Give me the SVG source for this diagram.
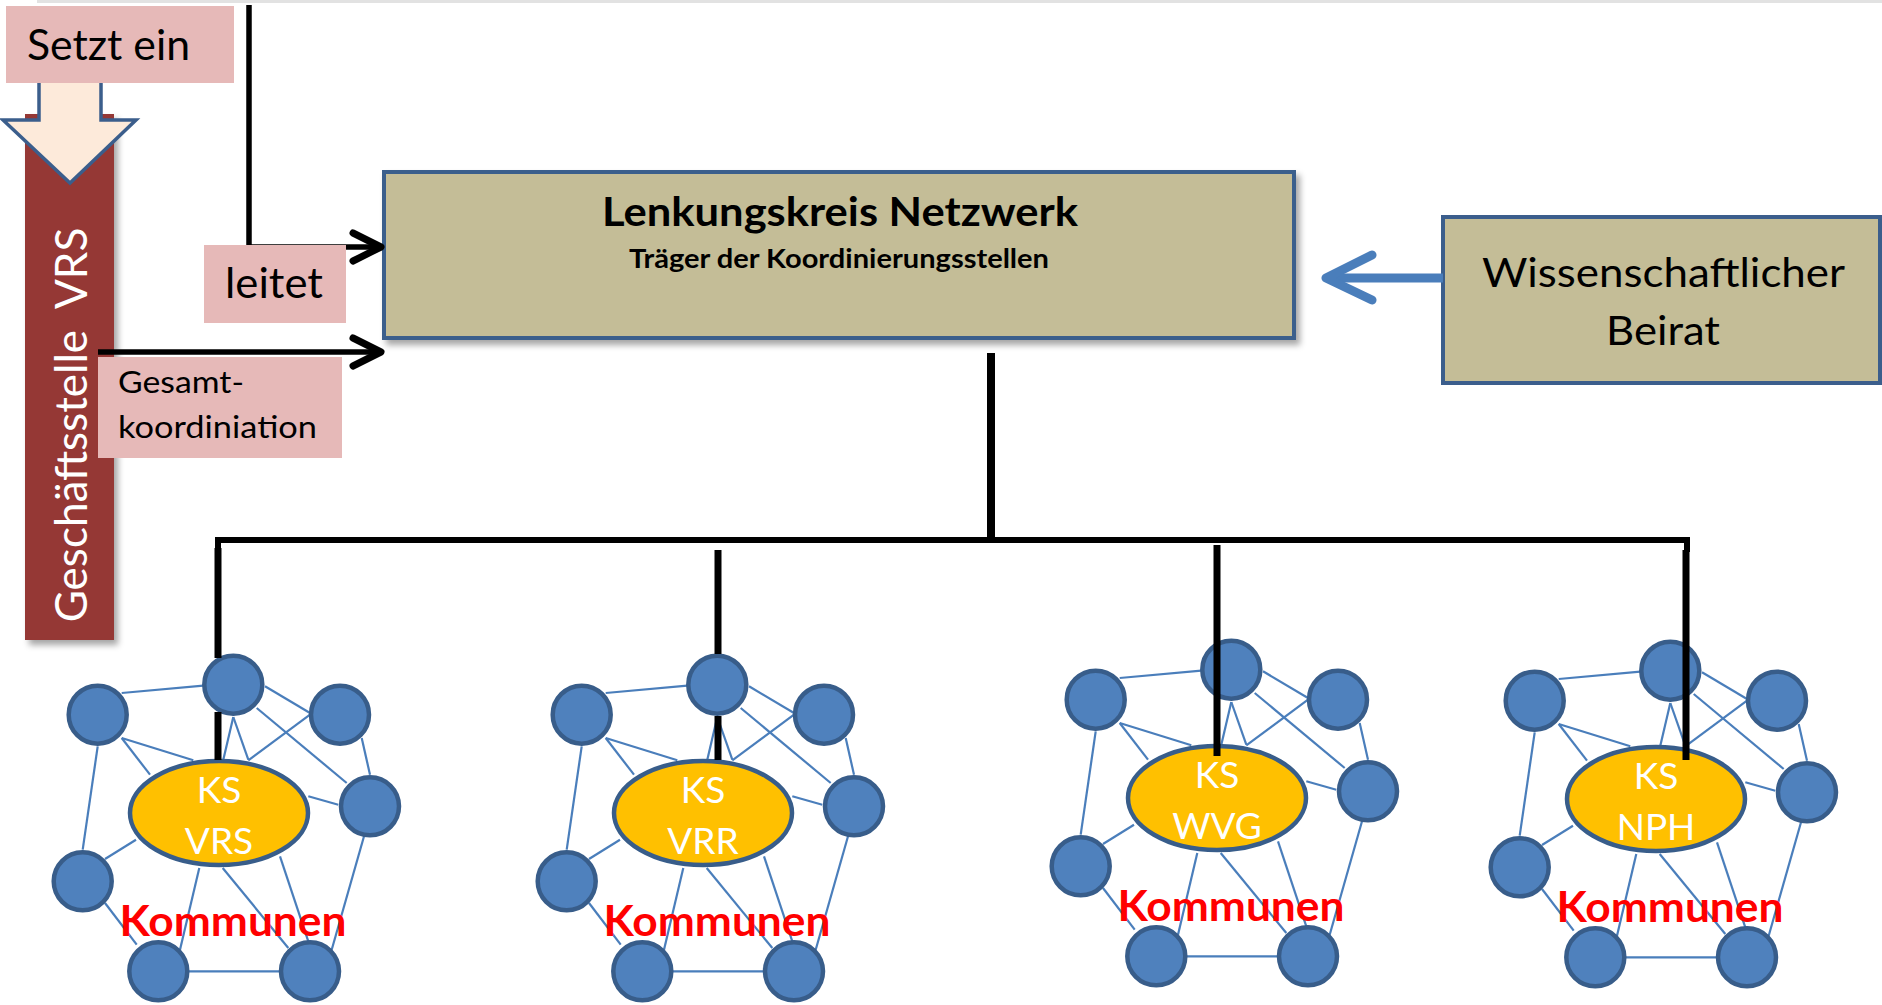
<svg xmlns="http://www.w3.org/2000/svg" xmlns:xlink="http://www.w3.org/1999/xlink" width="1882" height="1005" viewBox="0 0 1882 1005">
<defs>
<style>
.pink{fill:#E6B9B8}
.lbl{font-family:Lato,"Open Sans","Liberation Sans",sans-serif;fill:#000}
.conn{stroke:#000;fill:none}
.edge{stroke:#4A7EBB;stroke-width:2.2}
.dot{fill:#4F81BD;stroke:#385D8A;stroke-width:4.5}
.ks{fill:#FFC000;stroke:#385D8A;stroke-width:4.5}
.kst{font-family:Lato,"Open Sans","Liberation Sans",sans-serif;font-size:37px;fill:#fff;text-anchor:middle}
.kom{font-family:Lato,"Open Sans","Liberation Sans",sans-serif;font-size:42px;font-weight:bold;fill:#FF0000;text-anchor:middle}
.box{fill:#C4BD97;stroke:#3B5E8C;stroke-width:4}
</style>
<filter id="sh" x="-10%" y="-10%" width="130%" height="140%">
<feDropShadow dx="4" dy="5" stdDeviation="3" flood-color="#000" flood-opacity="0.35"/>
</filter>
<g id="net">
<g class="edge">
<line x1="-97.3" y1="-120" x2="-15.7" y2="-127.3"/>
<line x1="46" y1="-126.7" x2="91" y2="-100"/>
<line x1="14.3" y1="-96" x2="4.3" y2="-53.3"/>
<line x1="14.3" y1="-96" x2="29.3" y2="-53.3"/>
<line x1="37.7" y1="-105" x2="127.7" y2="-30"/>
<line x1="91" y1="-98.3" x2="29.3" y2="-52.7"/>
<line x1="142.7" y1="-75" x2="151" y2="-38.3"/>
<line x1="-97.3" y1="-75" x2="-25.7" y2="-52.7"/>
<line x1="-97.3" y1="-75" x2="-69" y2="-38.3"/>
<line x1="-121.3" y1="-66.7" x2="-136.3" y2="36.7"/>
<line x1="89.3" y1="-16.7" x2="119.3" y2="-8.3"/>
<line x1="-114" y1="46" x2="-83" y2="26.7"/>
<line x1="-114" y1="90" x2="-82.3" y2="131.7"/>
<line x1="-19.7" y1="55" x2="-39" y2="136.7"/>
<line x1="3.7" y1="55" x2="69.3" y2="135"/>
<line x1="61" y1="43.3" x2="89.3" y2="128.3"/>
<line x1="149.3" y1="8.3" x2="112.7" y2="136.7"/>
<line x1="-30.7" y1="158.3" x2="60.3" y2="158.3"/>
</g>
<circle class="dot" cx="14.3" cy="-128.3" r="29"/>
<circle class="dot" cx="-121.3" cy="-98.3" r="29"/>
<circle class="dot" cx="121" cy="-98.3" r="29"/>
<circle class="dot" cx="151" cy="-6.7" r="29"/>
<circle class="dot" cx="-136.3" cy="68.3" r="29"/>
<circle class="dot" cx="-60.7" cy="158.3" r="29"/>
<circle class="dot" cx="91" cy="158.3" r="29"/>
<ellipse class="ks" cx="0" cy="0" rx="89" ry="52"/>
</g>
</defs>
<rect width="1882" height="1005" fill="#fff"/>
<rect x="37" y="0" width="1845" height="3" fill="#e2e2e2"/>

<g id="geschaeftsstelle">
<rect x="25" y="114" width="89" height="526" fill="#953735" filter="url(#sh)"/>
<text class="lbl" transform="translate(87,425) rotate(-90)" font-size="44" style="fill:#fff" text-anchor="middle" xml:space="preserve">Geschäftsstelle  VRS</text>
</g>

<g id="setzt-ein-arrow">
<path d="M39,80 L101,80 L101,120 L136,120 L70,183 L3,120 L39,120 Z" fill="#FDEADA" stroke="#3B5E8C" stroke-width="3.5" stroke-linejoin="miter"/>
</g>

<g id="setzt-ein">
<rect class="pink" x="6" y="6" width="228" height="77"/>
<text class="lbl" x="27" y="60" font-size="42" textLength="163" lengthAdjust="spacingAndGlyphs">Setzt ein</text>
</g>

<g id="lenkungskreis">
<rect class="box" x="384" y="172" width="910" height="166" filter="url(#sh)"/>
<text class="lbl" x="602" y="226" font-size="40" font-weight="bold" textLength="476" lengthAdjust="spacingAndGlyphs">Lenkungskreis Netzwerk</text>
<text class="lbl" x="629" y="268" font-size="26" font-weight="bold" textLength="420" lengthAdjust="spacingAndGlyphs">Träger der Koordinierungsstellen</text>
</g>

<g id="beirat">
<rect class="box" x="1443" y="217" width="437" height="166"/>
<text class="lbl" x="1482" y="287" font-size="40" textLength="363" lengthAdjust="spacingAndGlyphs">Wissenschaftlicher</text>
<text class="lbl" x="1606" y="345" font-size="40" textLength="114" lengthAdjust="spacingAndGlyphs">Beirat</text>
</g>

<g id="ks-vrs">
<use xlink:href="#net" transform="translate(219,813)"/>
<text class="kst" x="219" y="803">KS</text>
<text class="kst" x="219" y="854">VRS</text>
<text class="kom" x="233" y="936" textLength="227" lengthAdjust="spacingAndGlyphs">Kommunen</text>
</g>
<g id="ks-vrr">
<use xlink:href="#net" transform="translate(703,813)"/>
<text class="kst" x="703" y="803">KS</text>
<text class="kst" x="703" y="854">VRR</text>
<text class="kom" x="717" y="936" textLength="227" lengthAdjust="spacingAndGlyphs">Kommunen</text>
</g>
<g id="ks-wvg">
<use xlink:href="#net" transform="translate(1217,798)"/>
<text class="kst" x="1217" y="788">KS</text>
<text class="kst" x="1217" y="839">WVG</text>
<text class="kom" x="1231" y="921" textLength="227" lengthAdjust="spacingAndGlyphs">Kommunen</text>
</g>
<g id="ks-nph">
<use xlink:href="#net" transform="translate(1656,799)"/>
<text class="kst" x="1656" y="789">KS</text>
<text class="kst" x="1656" y="840">NPH</text>
<text class="kom" x="1670" y="922" textLength="227" lengthAdjust="spacingAndGlyphs">Kommunen</text>
</g>

<g id="connectors">
<g class="conn" stroke-width="5.5" stroke-linejoin="round">
<polyline points="249,5 249,247 378,247"/>
<polyline points="98,352 378,352"/>
</g>
<g class="conn" stroke-width="7" stroke-linecap="round" stroke-linejoin="round">
<polyline points="353,233 381,247 353,261"/>
<polyline points="353,338 381,352 353,366"/>
</g>
<g class="conn" stroke-linecap="butt">
<line x1="991" y1="353" x2="991" y2="540" stroke-width="8"/>
<polyline points="218,552 218,540 1687,540 1687,552" stroke-width="6"/>
<line x1="218" y1="548" x2="218" y2="658" stroke-width="7"/>
<line x1="218" y1="712" x2="218" y2="760" stroke-width="7"/>
<line x1="718" y1="550" x2="718" y2="654" stroke-width="7"/>
<line x1="718" y1="716" x2="718" y2="760" stroke-width="7"/>
<line x1="1217" y1="545" x2="1217" y2="756" stroke-width="7"/>
<line x1="1686" y1="550" x2="1686" y2="760" stroke-width="7"/>
</g>
<g stroke="#4A7EBB" stroke-width="9" stroke-linecap="round" stroke-linejoin="round" fill="none">
<line x1="1443" y1="278" x2="1330" y2="278" stroke-linecap="butt"/>
<polyline points="1372,255 1326,278 1372,300"/>
</g>
</g>

<g id="gesamt">
<rect class="pink" x="98" y="357" width="244" height="101"/>
<text class="lbl" x="118" y="393" font-size="31" textLength="126" lengthAdjust="spacingAndGlyphs">Gesamt-</text>
<text class="lbl" x="118" y="438" font-size="31" textLength="199" lengthAdjust="spacingAndGlyphs">koordiniation</text>
</g>

<g id="leitet">
<rect class="pink" x="204" y="245" width="142" height="78"/>
<text class="lbl" x="225" y="298" font-size="42" textLength="98" lengthAdjust="spacingAndGlyphs">leitet</text>
</g>
</svg>
